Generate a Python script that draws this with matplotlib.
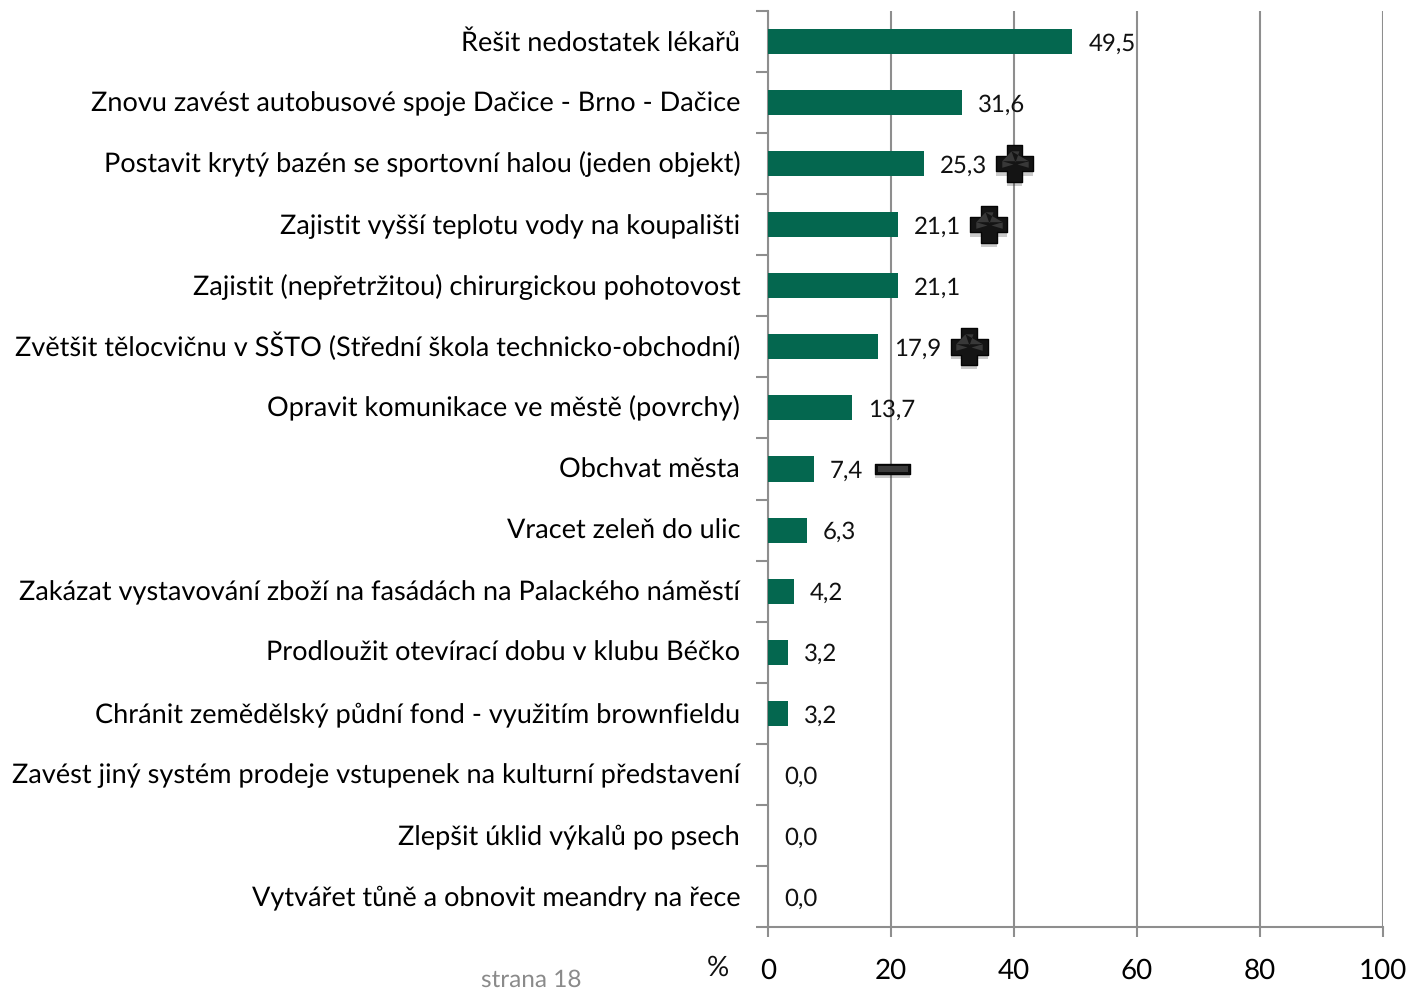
import numpy as np
import matplotlib
matplotlib.use('Agg')
import matplotlib.pyplot as plt
import matplotlib.patheffects as pe
from matplotlib.path import Path
from matplotlib.transforms import ScaledTranslation

plt.rcParams['font.family'] = ['Lato', 'DejaVu Sans']
plt.rcParams['ytick.alignment'] = 'baseline'
plt.rcParams['text.hinting'] = 'no_hinting'

#Chart data, top to bottom
labels = ['Řešit nedostatek lékařů',
          'Znovu zavést autobusové spoje Dačice - Brno - Dačice',
          'Postavit krytý bazén se sportovní halou (jeden objekt)',
          'Zajistit vyšší teplotu vody na koupališti',
          'Zajistit (nepřetržitou) chirurgickou pohotovost',
          'Zvětšit tělocvičnu v SŠTO (Střední škola technicko-obchodní)',
          'Opravit komunikace ve městě (povrchy)',
          'Obchvat města',
          'Vracet zeleň do ulic',
          'Zakázat vystavování zboží na fasádách na Palackého náměstí',
          'Prodloužit otevírací dobu v klubu Béčko',
          'Chránit zemědělský půdní fond - využitím brownfieldu',
          'Zavést jiný systém prodeje vstupenek na kulturní představení',
          'Zlepšit úklid výkalů po psech',
          'Vytvářet tůně a obnovit meandry na řece']
values = [49.5, 31.6, 25.3, 21.1, 21.1, 17.9, 13.7, 7.4, 6.3, 4.2, 3.2, 3.2, 0.0, 0.0, 0.0]
plus_rows = [2, 3, 5]
minus_rows = [7]
x_ticks = [0, 20, 40, 60, 80, 100]

W, H = 1410, 989
green = '#04674F'
gray = '#8E8E8E'

fig = plt.figure(figsize=(W/100, H/100), dpi=100)
ax = fig.add_axes([768/W, 1-927/H, (1383-768)/W, (927-11)/H])

y = np.arange(len(values))
ax.barh(y, values, height=0.41, color=green, zorder=3)
ax.set_xlim(0, 100)
ax.set_ylim(len(values)-0.5, -0.5)

#Axis lines and ticks
for s in ['top', 'right']:
    ax.spines[s].set_visible(False)
for s in ['left', 'bottom']:
    ax.spines[s].set_color(gray)
    ax.spines[s].set_linewidth(1.5)
ax.grid(axis='x', color=gray, linewidth=1.5, zorder=1)
ax.set_axisbelow(True)
ax.set_xticks(x_ticks)
ax.tick_params(axis='x', length=7, width=1.5, color=gray, labelsize=20, pad=15.5)
ax.set_yticks(y)
ax.set_yticklabels(labels)
ax.tick_params(axis='y', which='major', length=0, labelsize=19.5, pad=20)
ax.set_yticks(np.arange(len(values)+1)-0.5, minor=True)
ax.tick_params(axis='y', which='minor', length=9, width=1.5, color=gray)

#Baseline aligned labels, pushed down so accents do not shift single rows
down = ScaledTranslation(0, -6.4/72, fig.dpi_scale_trans)
for t in ax.get_yticklabels():
    t.set_transform(t.get_transform() + down)

#Value labels
for i, v in enumerate(values):
    ax.annotate(f'{v:.1f}'.replace('.', ','), (v, i), xytext=(11.5, -1.6),
                textcoords='offset points', va='center', ha='left',
                fontsize=17.3, color='#111111', zorder=5)

#Trend signs next to the labels
a, b = 0.42, 1.0
plus = Path([(-a, -b), (a, -b), (a, -a), (b, -a), (b, a), (a, a), (a, b),
             (-a, b), (-a, a), (-b, a), (-b, -a), (-a, -a), (-a, -b)], closed=True)
minus = Path([(-b, -0.28), (b, -0.28), (b, 0.28), (-b, 0.28), (-b, -0.28)], closed=True)
#Lighter bevel facets, markers get rescaled to their largest vertex
facets = Path([(-0.3, 1), (0.3, 1), (0, 0.15), (-0.3, 1),
               (-1, 0.25), (-1, -0.25), (-0.15, 0), (-1, 0.25),
               (1, 0.25), (1, -0.25), (0.15, 0), (1, 0.25)], closed=False)
minus_top = Path([(-1, 0.18), (1, 0.18), (1, -0.18), (-1, -0.18), (-1, 0.18)], closed=True)
shadow = [pe.SimplePatchShadow(offset=(0, -3), alpha=0.25, shadow_rgbFace='#333333'), pe.Normal()]

for i in plus_rows:
    ax.plot(values[i] + 14.8, i, marker=plus, markersize=26.5, color='#141414',
            markeredgecolor='#050505', path_effects=shadow, zorder=6, clip_on=False)
    ax.plot(values[i] + 14.8, i, marker=facets, markersize=19, color='#383838',
            markeredgewidth=0, zorder=7)
for i in minus_rows:
    ax.plot(values[i] + 12.9, i, marker=minus, markersize=25, color='#0E0E0E',
            markeredgecolor='#050505', path_effects=shadow, zorder=6, clip_on=False)
    ax.plot(values[i] + 12.9, i, marker=minus_top, markersize=21, color='#3C3C3C',
            markeredgewidth=0, zorder=7)

#Loose texts under the axis
fig.text(718/W, 1-968/H, '%', fontsize=20, ha='center', va='center', color='#111111')
fig.text(531/W, 1-980/H, 'strana 18', fontsize=17.6, ha='center', va='center', color='#8A8A8A')

fig.savefig('out.png', dpi=100)
